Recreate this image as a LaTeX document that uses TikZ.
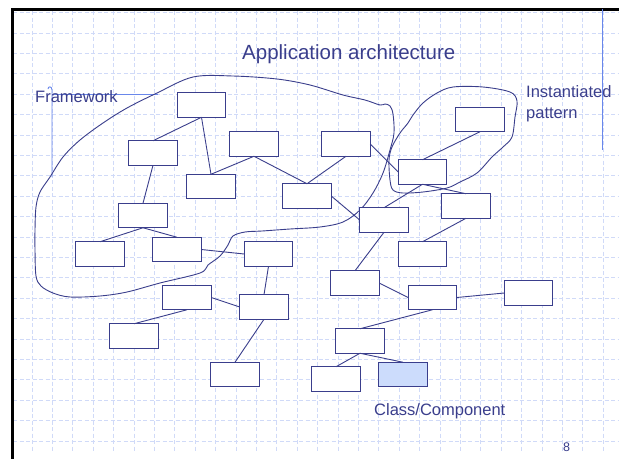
\documentclass[tikz,border=0pt]{standalone}
\usepackage{fontspec}
\setmainfont{Liberation Sans}
\definecolor{ink}{RGB}{58,62,140}
\definecolor{gridc}{RGB}{208,218,248}
\definecolor{callout}{RGB}{105,135,235}
\definecolor{boxfill}{RGB}{204,220,252}
\begin{document}
\begin{tikzpicture}[x=1pt,y=-1pt,
  box/.style={draw=ink, fill=white, line width=1.1pt, minimum width=48.5pt, minimum height=24.5pt, inner sep=0pt, outer sep=0pt},
  link/.style={draw=ink, line width=0.9pt},
  blob/.style={draw=ink, line width=0.9pt},
  gridline/.style={draw=gridc, line width=0.7pt, dash pattern=on 4pt off 2.5pt},
  lbl/.style={text=ink, inner sep=0pt, anchor=base west, font=\fontsize{16.5}{20}\selectfont}]
\useasboundingbox (0,0) rectangle (619,459);
\fill[white] (0,0) rectangle (619,459);
% grid
\foreach \k in {-1,...,20} \draw[gridline] (13,{33+20.4*\k}) -- (619,{33+20.4*\k});
\foreach \k in {0,...,28} \draw[gridline] ({32+20.4*\k},11) -- ({32+20.4*\k},452);
% border
\draw[black, line width=3pt] (12.5,9.5) -- (619,9.5);
\draw[black, line width=3pt] (12.5,8) -- (12.5,459);
% callout lines
\draw[callout, line width=0.9pt] (158,94) -- (52,94);
\draw[callout, line width=0.9pt] (52,177) -- (52,90) .. controls (52,86) and (48,86) .. (48,89);
\draw[callout, line width=0.9pt] (602,9) -- (602,150);
% blobs
\draw[blob] plot[smooth cycle, tension=0.55] coordinates {
 (193,77) (233,76) (277,79) (310,85) (343,95) (365,100) (380,105) (385,104) (390,106) (393,114) (394,133)
 (390,150) (383,173) (373,193) (360,210) (343,222) (320,227) (290,229) (262,231) (245,232) (233,236)
 (228,245) (220,256) (208,265) (200,273) (160,283) (127,292) (100,296) (70,297) (53,293) (41,286)
 (36,276) (35,250) (35,230) (36,207) (40,192) (50,177) (63,157) (80,140) (103,123) (127,108) (157,93)};
\draw[blob] plot[smooth cycle, tension=0.55] coordinates {
 (453,87) (483,87) (510,92) (517,101) (515,117) (512,137) (503,147) (492,157) (477,173) (460,182)
 (447,188) (423,192) (403,193) (393,190) (390,180) (389,160) (392,147) (400,133) (408,123) (413,115)
 (423,103) (437,93)};
% boxes
\node[box] (b1) at (201.5,105) {};
\node[box] (b2) at (153,153) {};
\node[box] (b3) at (254,144) {};
\node[box] (b4) at (211,186.5) {};
\node[box] (b5) at (307,196) {};
\node[box] (b6) at (143,215.5) {};
\node[box] (b7) at (346,144) {};
\node[box] (b8) at (480,119.5) {};
\node[box] (b9) at (422.5,172) {};
\node[box] (b10) at (466,206) {};
\node[box] (b11) at (384,220) {};
\node[box] (b12) at (100,254) {};
\node[box] (b13) at (177,249.5) {};
\node[box] (b14) at (268.5,254) {};
\node[box] (b15) at (187,297.5) {};
\node[box] (b16) at (264,307) {};
\node[box] (b17) at (134,336) {};
\node[box] (b18) at (235,374.5) {};
\node[box] (b19) at (422.5,254) {};
\node[box] (b20) at (355,283) {};
\node[box] (b21) at (432.5,297.5) {};
\node[box] (b22) at (528.5,293) {};
\node[box] (b23) at (360,341) {};
\node[box] (b24) at (336,379) {};
\node[box, fill=boxfill] (b25) at (403,374.5) {};
% links
\draw[link] (b1.south) -- (b2.north);
\draw[link] (b1.south) -- (b4.north);
\draw[link] (b3.south) -- (b4.north);
\draw[link] (b3.south) -- (b5.north);
\draw[link] (b2.south) -- (b6.north);
\draw[link] (b7.south) -- (b5.north);
\draw[link] (b7.east) -- (b9.west);
\draw[link] (b8.south) -- (b9.north);
\draw[link] (b9.south) -- (b11.north);
\draw[link] (b9.south) -- (b10.north);
\draw[link] (b10.south) -- (b19.north);
\draw[link] (b11.south) -- (b20.north);
\draw[link] (b20.east) -- (b21.west);
\draw[link] (b21.east) -- (b22.west);
\draw[link] (b21.south) -- (b23.north);
\draw[link] (b23.south) -- (b24.north);
\draw[link] (b23.south) -- (b25.north);
\draw[link] (b6.south) -- (b12.north);
\draw[link] (b6.south) -- (b13.north);
\draw[link] (b13.east) -- (b14.west);
\draw[link] (b14.south) -- (b16.north);
\draw[link] (b15.east) -- (b16.west);
\draw[link] (b15.south) -- (b17.north);
\draw[link] (b16.south) -- (b18.north);
\draw[link] (b5.east) -- (b11.west);
% texts
\node[lbl, font=\fontsize{20.5}{24}\selectfont] (title) at (242,59) {Application architecture};
\node[lbl] (fw) at (35,102.5) {Framework};
\node[lbl] (ip1) at (526,97.5) {Instantiated};
\node[lbl] (ip2) at (526,118) {pattern};
\node[lbl] (cc) at (374,415) {Class/Component};
\node[lbl, font=\fontsize{12.5}{15}\selectfont] (pg) at (563,451) {8};
\end{tikzpicture}
\end{document}
